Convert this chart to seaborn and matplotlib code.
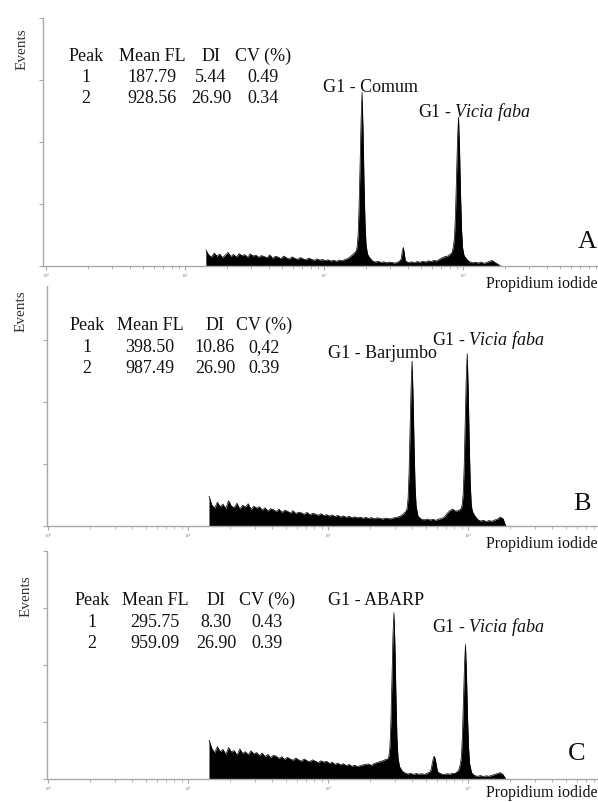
"""Flow cytometry histograms (propidium iodide), three samples vs Vicia faba."""
import numpy as np
import matplotlib
matplotlib.use("Agg")
import matplotlib.pyplot as plt
import seaborn as sns
from matplotlib.ticker import LogLocator, LogFormatterSciNotation, NullFormatter, FixedLocator

W, H = 598, 803

# channel grid for the debris part of the histograms (0.02 decade steps)
debris_fl = np.logspace(1.15, 3.27, 107)

debris_a = [65,
            45, 36, 52, 40, 48, 34, 44, 55, 38, 47, 36, 50, 41, 46, 35, 49, 40,
            44, 35, 42, 38, 33, 45, 31, 39, 36, 30, 40, 33, 28, 37, 31, 27, 34, 29, 25, 32, 27, 23, 29, 24, 26,
            22, 25, 20, 23, 19, 24, 21, 26, 30, 38,
            48, 58, 62, 62, 60, 50, 32,
            20, 16, 19, 14, 17, 13, 16, 14, 12, 15,
            22, 25, 18,
            14, 17, 13, 18, 15, 19, 16, 21, 18, 23, 20, 27, 33, 38,
            40, 48, 55, 60, 60, 55, 40, 25,
            16, 13, 15, 12, 16, 11, 14, 19, 22, 14,
            8, 0]
debris_b = [120,
            85, 72, 96, 78, 88, 70, 102, 80, 74, 92, 68, 84, 76, 90, 66, 80, 72,
            78, 64, 74, 60, 70, 66, 58, 68, 55, 63, 60, 52, 62, 50, 56, 53, 47, 55, 45, 51, 48, 43, 50, 42, 46,
            40, 45, 38, 43, 36, 41, 35, 39, 34, 37,
            33, 36, 31, 35, 30, 34, 29, 33, 31, 28, 32, 30, 29, 33, 35,
            38, 45, 55, 62, 65, 62, 50, 35, 26,
            25, 28, 24, 27, 23, 28, 30, 36,
            50, 62, 68, 60,
            62, 68, 72, 75, 70, 60, 40, 26,
            20, 23, 18, 22, 19, 24, 28,
            36, 30, 0]
debris_c = [170,
            135, 115, 142, 120, 130, 108, 138, 118, 125, 104, 132, 112, 120, 106, 124, 110, 116,
            102, 114, 98, 108, 94, 104, 100, 90, 98, 86, 95, 88, 82, 92, 84, 78, 88, 80, 76, 84, 78, 72, 80, 74, 78,
            68, 74, 64, 70, 62, 67, 58, 64, 56, 60, 55, 58, 62,
            64, 66, 60, 68, 72, 76, 80, 85, 88, 88, 86, 80, 55, 35, 26,
            22, 25, 20, 24, 21, 23, 20,
            26, 30, 32, 32, 28, 22,
            20, 23, 21, 25, 24, 30,
            35, 38, 36, 30, 20,
            14, 12, 15, 11, 14, 12, 16, 20, 24,
            28, 20, 0]

# peaks: FL values and counts
comum_fl = [159.1, 167.2, 172.8, 175.8, 178.6, 181.6, 184.8, 187.8, 191.0, 194.2, 197.4, 200.7, 207.5, 218.0]
comum_n = [24, 40, 75, 120, 230, 400, 590, 700, 540, 330, 170, 85, 35, 15]
comum_g2_fl = [348.2, 359.7, 365.9, 372.0, 378.3, 384.6, 397.7]
comum_g2_n = [12, 30, 60, 75, 50, 22, 10]
vicia_a_fl = [786.5, 826.4, 854.3, 869.1, 883.1, 897.9, 913.7, 928.6, 944.4, 960.1, 975.9, 992.6, 1026.0, 1078.0]
vicia_a_n = [30, 45, 80, 120, 210, 360, 520, 600, 470, 290, 150, 75, 30, 14]

barjumbo_fl = [337.5, 354.7, 366.6, 373.0, 379.0, 385.3, 392.1, 398.5, 405.3, 412.0, 418.8, 426.0, 440.3, 462.7]
barjumbo_n = [35, 45, 70, 110, 210, 380, 560, 665, 520, 320, 160, 80, 35, 28]
vicia_b_fl = [836.4, 878.9, 908.5, 924.3, 939.1, 954.9, 971.7, 987.5, 1004.3, 1021.1, 1037.8, 1055.6, 1091.2, 1146.5]
vicia_b_n = [40, 55, 85, 130, 240, 420, 600, 695, 540, 330, 170, 85, 35, 20]

abarp_fl = [250.5, 263.2, 272.1, 276.8, 281.3, 286.0, 291.0, 295.75, 300.8, 305.8, 310.8, 316.2, 326.8, 343.4]
abarp_n = [55, 70, 100, 140, 250, 430, 630, 730, 580, 360, 180, 95, 40, 25]
abarp_g2_fl = [529.0, 546.8, 556.0, 565.8, 575.0, 584.8, 594.6, 604.3, 625.0]
abarp_g2_n = [22, 45, 70, 92, 100, 85, 60, 35, 20]
vicia_c_fl = [812.4, 853.6, 882.4, 897.7, 912.1, 927.4, 943.8, 959.1, 975.4, 991.7, 1008.0, 1025.3, 1059.8, 1113.5]
vicia_c_n = [25, 35, 65, 100, 190, 340, 500, 590, 460, 280, 145, 70, 28, 14]

table_header = ["Peak", "Mean FL", "DI", "CV (%)"]
table_a = [["1", "187.79", "5.44", "0.49"], ["2", "928.56", "26.90", "0.34"]]
table_b = [["1", "398.50", "10.86", "0,42"], ["2", "987.49", "26.90", "0.39"]]
table_c = [["1", "295.75", "8.30", "0.43"], ["2", "959.09", "26.90", "0.39"]]

sns.set_theme(style="white")
plt.rcParams["font.family"] = ["Liberation Serif", "DejaVu Serif"]
plt.rcParams["mathtext.fontset"] = "custom"
plt.rcParams["mathtext.rm"] = "Liberation Serif"
plt.rcParams["mathtext.it"] = "Liberation Serif:italic"

GREY = "#a9a9a9"

fig = plt.figure(figsize=(W / 100, H / 100), dpi=100)


def px(x, y):
    return x / W, 1 - y / H


def fill_curve(ax, fl, n):
    ax.fill_between(fl, n, 0, color="black", lw=0)
    sns.lineplot(x=fl, y=n, ax=ax, color="black", lw=0.5, sort=False, estimator=None)


panels = [
    dict(rect=(43, 19, 598, 267), dec0=46, dec=139, ytop=1000,
         debris=debris_a, peaks=[(comum_fl, comum_n), (comum_g2_fl, comum_g2_n), (vicia_a_fl, vicia_a_n)],
         table=table_a, tx=[86, 152, 211, 263], ty=[61, 82, 103], ev=(22, 49),
         lab1=("G1 - Comum", 323, 92), lab2=(418, 117), letter=("A", 578, 248), pi=(597, 288)),
    dict(rect=(47, 287, 598, 527), dec0=48, dec=140, ytop=968,
         debris=debris_b, peaks=[(barjumbo_fl, barjumbo_n), (vicia_b_fl, vicia_b_n)],
         table=table_b, tx=[87, 150, 215, 264], ty=[330, 352, 373], ev=(21, 311),
         lab1=("G1 - Barjumbo", 328, 358), lab2=(432, 345), letter=("B", 573, 510), pi=(597, 548)),
    dict(rect=(47, 552, 598, 780), dec0=48, dec=140, ytop=1000,
         debris=debris_c, peaks=[(abarp_fl, abarp_n), (abarp_g2_fl, abarp_g2_n), (vicia_c_fl, vicia_c_n)],
         table=table_c, tx=[92, 155, 216, 267], ty=[605, 627, 648], ev=(26, 596),
         lab1=("G1 - ABARP", 328, 605), lab2=(432, 632), letter=("C", 568, 760), pi=(597, 797)),
]

for p in panels:
    x0, y0, x1, y1 = p["rect"]
    ax = fig.add_axes([x0 / W, 1 - y1 / H, (x1 - x0) / W, (y1 - y0) / H])
    ax.set_xscale("log")

    fill_curve(ax, debris_fl, p["debris"])
    for fl, n in p["peaks"]:
        fill_curve(ax, fl, n)

    lo = 10 ** ((x0 - p["dec0"]) / p["dec"])
    hi = 10 ** ((x1 - p["dec0"]) / p["dec"])
    ax.set_xlim(lo, hi)
    ax.set_ylim(0, p["ytop"])
    ax.set_xlabel("")
    ax.set_ylabel("")

    for s in ["top", "right"]:
        ax.spines[s].set_visible(False)
    for s in ["left", "bottom"]:
        ax.spines[s].set_color(GREY)
        ax.spines[s].set_linewidth(1.0)

    ax.xaxis.set_major_locator(LogLocator(base=10, numticks=10))
    ax.xaxis.set_minor_locator(LogLocator(base=10, subs=np.arange(2, 10), numticks=10))
    ax.xaxis.set_major_formatter(LogFormatterSciNotation())
    ax.xaxis.set_minor_formatter(NullFormatter())
    ax.yaxis.set_major_locator(FixedLocator([0, 250, 500, 750, 1000]))
    ax.set_yticklabels([])
    ax.tick_params(axis="x", which="major", direction="out", length=3, width=0.8,
                   color=GREY, labelsize=3.5, labelcolor="#888888", pad=0.5, bottom=True)
    ax.tick_params(axis="x", which="minor", direction="out", length=2, width=0.6,
                   color=GREY, bottom=True)
    ax.tick_params(axis="y", which="major", direction="out", length=3, width=0.8,
                   color=GREY, left=True)

    # stats table
    rows = [table_header] + p["table"]
    for r, row in enumerate(rows):
        for c, cell in enumerate(row):
            fig.text(*px(p["tx"][c], p["ty"][r]), cell, ha="center", va="baseline",
                     fontsize=13, color="#111111")

    fig.text(*px(*p["ev"]), "Events", rotation=90, ha="center", va="center",
             fontsize=11, color="#333333")

    name, lx, ly = p["lab1"]
    fig.text(*px(lx, ly), name, ha="left", va="baseline", fontsize=13, color="#111111")
    vx, vy = p["lab2"]
    fig.text(*px(vx, vy), r"G1 - $\mathit{Vicia\ faba}$", ha="left", va="baseline",
             fontsize=13, color="#111111")

    letter, kx, ky = p["letter"]
    fig.text(*px(kx, ky), letter, ha="left", va="baseline", fontsize=19, color="#111111")
    fig.text(*px(*p["pi"]), "Propidium iodide", ha="right", va="baseline",
             fontsize=11.5, color="#111111")

fig.savefig("out.png", dpi=100)
